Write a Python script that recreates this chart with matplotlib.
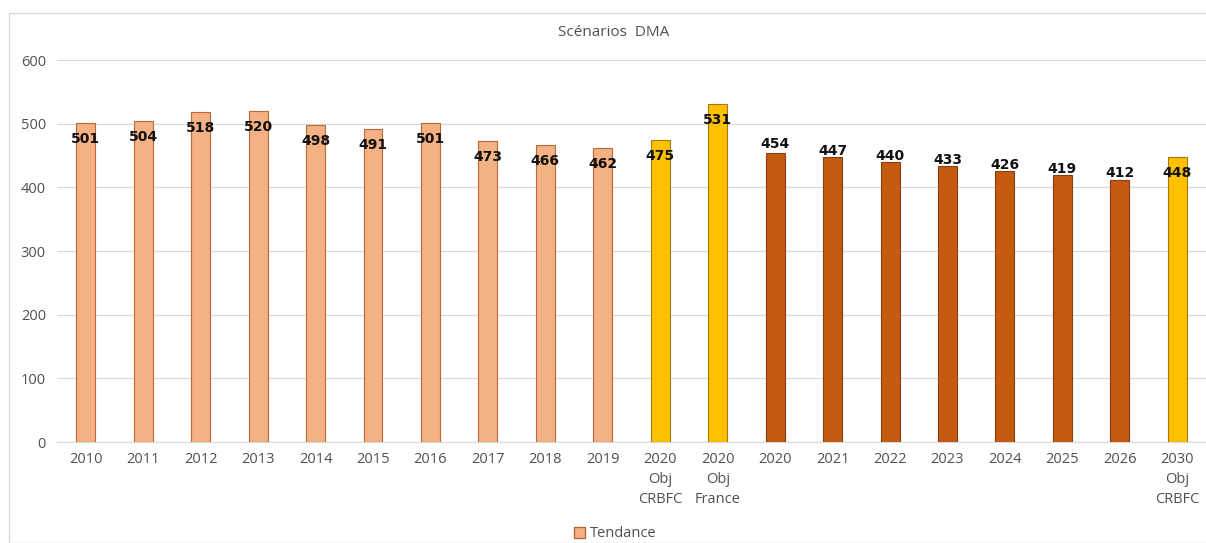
import matplotlib.pyplot as plt
from matplotlib.patches import Patch, Rectangle

categories = ["2010", "2011", "2012", "2013", "2014", "2015", "2016", "2017", "2018", "2019",
              "2020\nObj\nCRBFC", "2020\nObj\nFrance", "2020", "2021", "2022", "2023",
              "2024", "2025", "2026", "2030\nObj\nCRBFC"]
values = [501, 504, 518, 520, 498, 491, 501, 473, 466, 462,
          475, 531, 454, 447, 440, 433, 426, 419, 412, 448]
# bar kind: 0 = historique (clair), 1 = objectif (jaune), 2 = tendance (foncé)
kinds = [0, 0, 0, 0, 0, 0, 0, 0, 0, 0, 1, 1, 2, 2, 2, 2, 2, 2, 2, 1]

fill = {0: "#F4B183", 1: "#FFC000", 2: "#C55A11"}
edge = {0: "#B8683A", 1: "#A07A10", 2: "#8A3E0C"}

plt.rcParams["font.family"] = ["Open Sans", "DejaVu Sans"]

fig = plt.figure(figsize=(12.06, 5.43), dpi=100)
ax = fig.add_axes([0.0473, 0.186, 0.9527, 0.7035])

x = range(len(categories))
ax.bar(x, values, width=0.33,
       color=[fill[k] for k in kinds],
       edgecolor=[edge[k] for k in kinds], linewidth=0.8, zorder=3)

for i, v in enumerate(values):
    off = 11.5 if kinds[i] < 2 else -4.5
    if i == 12:
        off = -6.5
    ax.annotate(str(v), (i, v), xytext=(0, -off), textcoords="offset points",
                ha="center", va="center", fontsize=10, fontweight="bold",
                color="#111111", family=["DejaVu Sans"], zorder=4)

ax.set_xlim(-0.5, len(categories) - 0.5)
ax.set_ylim(0, 600)
ax.set_yticks(range(0, 601, 100))
ax.set_xticks(list(x))
ax.set_xticklabels(categories, linespacing=1.45)
ax.tick_params(axis="both", length=0, colors="#505050", labelsize=10.5)
ax.tick_params(axis="x", pad=7)
ax.tick_params(axis="y", pad=8)
ax.grid(axis="y", color="#D9D9D9", linewidth=0.8, zorder=0)
for s in ["top", "right", "left"]:
    ax.spines[s].set_visible(False)
ax.spines["bottom"].set_color("#D9D9D9")

fig.text(0.509, 0.94, "Scénarios  DMA", ha="center", va="center",
         fontsize=11, color="#505050")

fig.legend(handles=[Patch(facecolor=fill[0], edgecolor=edge[0], label="Tendance")],
           loc="center", bbox_to_anchor=(0.51, 0.017), frameon=False,
           fontsize=10.5, handlelength=0.8, handleheight=0.8, handletextpad=0.3,
           labelcolor="#505050")

fig.patches.append(Rectangle((9 / 1206, 0), 1.0, 1 - 13 / 543,
                             transform=fig.transFigure, fill=False,
                             edgecolor="#D9D9D9", linewidth=1))

fig.savefig("out.png", dpi=100)
